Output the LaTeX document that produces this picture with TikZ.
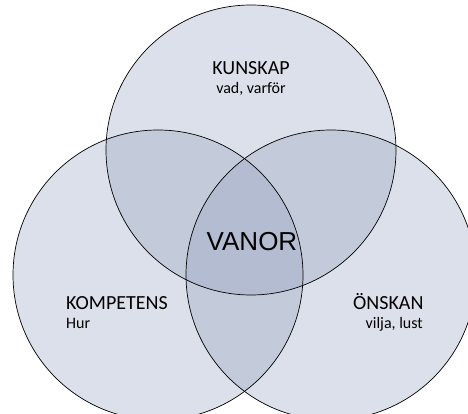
\documentclass[tikz,border=0pt]{standalone}
\usepackage{fontspec}
\setmainfont{Carlito}
\newfontfamily\arialfont{Liberation Sans}
\begin{document}
\begin{tikzpicture}[x=1pt,y=-1pt,
  vennfill/.style={fill=vennblue,fill opacity=0.3},
  vennline/.style={draw=black,line width=0.7pt},
  lbl/.style={font=\fontsize{20}{22}\selectfont,inner sep=0pt,anchor=base},
  sublbl/.style={font=\fontsize{16}{18}\selectfont,inner sep=0pt,anchor=base}]
\definecolor{vennblue}{HTML}{8B9AB8}
\useasboundingbox (0,0) rectangle (468,414);
\coordinate (ctop) at (251,150);
\coordinate (cleft) at (158,275);
\coordinate (cright) at (331,275);
\foreach \c in {ctop,cleft,cright}{\fill[vennfill] (\c) circle[radius=145];}
\foreach \c in {ctop,cleft,cright}{\draw[vennline] (\c) circle[radius=145];}
\node[lbl] (kunskap) at (251,75) {KUNSKAP};
\node[sublbl] (vad) at (251,94) {vad, varför};
\node[inner sep=0pt,anchor=base,font=\arialfont\fontsize{26}{28}\selectfont] (vanor) at (252,250) {VANOR};
\node[lbl,anchor=base west] (kompetens) at (66,309) {KOMPETENS};
\node[sublbl,anchor=base west] (hur) at (66,328) {Hur};
\node[lbl,anchor=base west] (onskan) at (353,309) {ÖNSKAN};
\node[sublbl,anchor=base east] (vilja) at (423,328) {vilja, lust};
\end{tikzpicture}
\end{document}
